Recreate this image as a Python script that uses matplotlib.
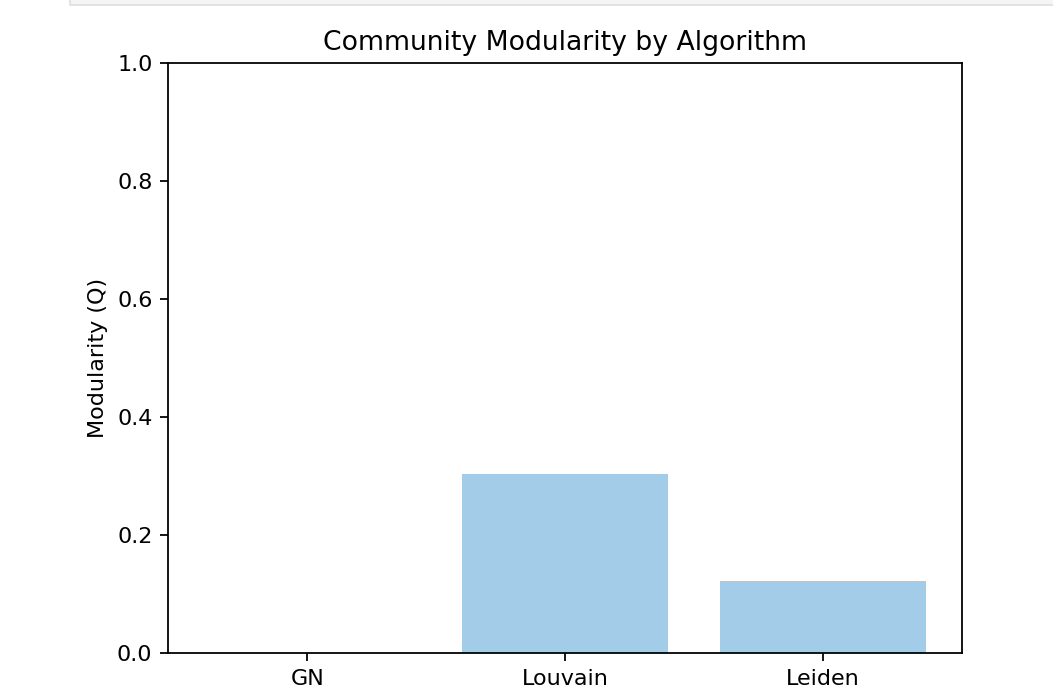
import matplotlib
matplotlib.use("Agg")
import matplotlib.pyplot as plt
import matplotlib.patches as patches

algorithms = ["GN", "Louvain", "Leiden"]
modularity = [0.0, 0.304, 0.122]

fig = plt.figure(figsize=(1053 / 160, 699 / 160), dpi=160)
ax = fig.add_axes([168 / 1053, 1 - 653 / 699, (962 - 168) / 1053, (653 - 63) / 699])

# notebook cell strip at the top of the screenshot
strip = patches.Rectangle((70 / 1053, 1 - 5 / 699), 1, 20 / 699, transform=fig.transFigure,
                          facecolor="#f5f5f5", edgecolor="#e0e0e0", linewidth=0.8)
fig.patches.append(strip)

ax.bar(algorithms, modularity, color="#a3cce8")
ax.set_ylim(0, 1)
ax.set_ylabel("Modularity (Q)")
ax.set_title("Community Modularity by Algorithm")

fig.savefig("out.png", dpi=160)
